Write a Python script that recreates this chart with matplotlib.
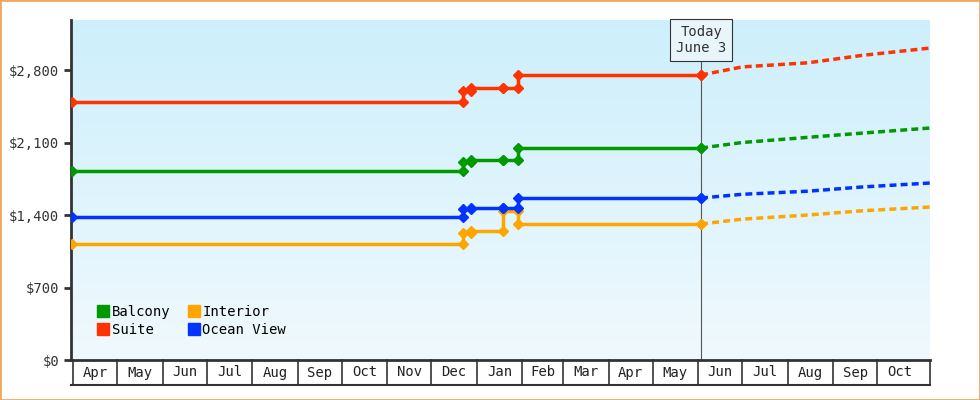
import matplotlib
matplotlib.use("Agg")
import matplotlib.pyplot as plt
import matplotlib.dates as mdates
import numpy as np
from datetime import date, timedelta
from matplotlib.patches import Rectangle

plt.rcParams['font.family'] = ['DejaVu Sans Mono']

# step-change dates (historical)
hist_dates = ["2024-03-31", "2024-12-23", "2024-12-28", "2025-01-19", "2025-01-29", "2025-06-03"]
suite    = [2490, 2597, 2626, 2626, 2752, 2752]
balcony  = [1825, 1912, 1931, 1931, 2047, 2047]
ocean    = [1381, 1458, 1467, 1467, 1564, 1564]
interior = [1120, 1226, 1245, 1439, 1313, 1313]

fc_dates = ["2025-06-03", "2025-07-01", "2025-08-15", "2025-09-20", "2025-11-06"]
suite_fc    = [2752, 2830, 2870, 2940, 3012]
balcony_fc  = [2047, 2100, 2150, 2190, 2240]
ocean_fc    = [1564, 1600, 1630, 1670, 1709]
interior_fc = [1313, 1360, 1400, 1440, 1477]

series = [("Balcony", "#009900", balcony, balcony_fc),
          ("Suite", "#ff3300", suite, suite_fc),
          ("Interior", "#ffa500", interior, interior_fc),
          ("Ocean View", "#0033ff", ocean, ocean_fc)]

months = ["Apr","May","Jun","Jul","Aug","Sep","Oct","Nov","Dec","Jan","Feb","Mar","Apr","May","Jun","Jul","Aug","Sep","Oct"]
month_starts = [date(2024,4,1)]
for i in range(1, len(months)+1):
    d = month_starts[-1]
    month_starts.append(date(d.year + (d.month==12), d.month % 12 + 1, 1))

fig = plt.figure(figsize=(9.8, 4.0), dpi=100)
fig.patches.append(Rectangle((0,0),1,1,transform=fig.transFigure,fill=False,edgecolor="#f0a860",lw=2))
ax = fig.add_axes([71/980, 40/400, 859/980, 340/400])

xmin = mdates.date2num(date(2024,3,30)) + 0.6
xmax = mdates.date2num(date(2025,11,6))
ax.set_xlim(xmin, xmax)
ax.set_ylim(0, 3283)

grad = np.linspace(0, 1, 256).reshape(-1, 1)
from matplotlib.colors import LinearSegmentedColormap
cm = LinearSegmentedColormap.from_list("g", ["#f0f9fe", "#cdeffb"])
ax.imshow(grad, aspect="auto", cmap=cm, origin="lower", extent=[xmin, xmax, 0, 3283], zorder=0)

def steps(ds, vs):
    xs, ys = [], []
    for i, (d, v) in enumerate(zip(ds, vs)):
        x = mdates.datestr2num(d)
        if i > 0:
            xs.append(x); ys.append(vs[i-1])
        xs.append(x); ys.append(v)
    return xs, ys

for name, c, h, f in series:
    xs, ys = steps(hist_dates, h)
    ax.plot(xs, ys, color=c, lw=2.5, zorder=3)
    ax.plot(xs[:-1], ys[:-1], 'D', color=c, ms=5, zorder=4)
    ax.plot([mdates.datestr2num(d) for d in fc_dates], f, color=c, lw=2.5, ls=(0, (2, 1.2)), zorder=3)
    ax.plot(mdates.datestr2num(fc_dates[0]), f[0], 'D', color=c, ms=5, zorder=4)

today = mdates.datestr2num("2025-06-03")
ax.axvline(today, color="#555555", lw=0.8, zorder=2, ymax=(360-62)/340)
ax.text(today, 3283*(340-20)/340, "Today\nJune 3", ha="center", va="center", fontsize=10, color="#333333",
        linespacing=1.2, bbox=dict(boxstyle="square,pad=0.4", fc="#e8f6fc", ec="#333333", lw=0.8), zorder=6)

for s in ["top", "right", "bottom"]:
    ax.spines[s].set_visible(False)
ax.spines["left"].set_color("#333333"); ax.spines["left"].set_linewidth(2)
ax.set_yticks([0, 700, 1400, 2100, 2800])
ax.set_yticklabels(["$0", "$700", "$1,400", "$2,100", "$2,800"])
ax.tick_params(axis="y", labelsize=10, colors="#333333", length=5, width=2)
ax.set_xticks([])

# month boxes
tr = ax.get_xaxis_transform()
bot = -25/340
ax.plot([xmin, xmax], [0, 0], transform=tr, color="#333333", lw=2, clip_on=False)
ax.plot([xmin, xmax], [bot, bot], transform=tr, color="#333333", lw=1.5, clip_on=False)
for i, m in enumerate(months):
    x0 = mdates.date2num(month_starts[i]); x1 = mdates.date2num(month_starts[i+1])
    ax.plot([x0, x0], [0, bot], transform=tr, color="#333333", lw=1.2, clip_on=False)
    if x1 <= xmax:
        ax.text((x0+x1)/2, bot/2, m, transform=tr, ha="center", va="center", fontsize=10, color="#222222")
ax.plot([xmax, xmax], [0, bot], transform=tr, color="#333333", lw=1.2, clip_on=False)

# legend
from matplotlib.lines import Line2D
handles = [Line2D([], [], marker='s', ls='', color=c, ms=9) for _, c, _, _ in series]
ax.legend(handles, [s[0] for s in series], ncol=2, loc="lower left", bbox_to_anchor=(0.015, 0.03),
          frameon=False, fontsize=10, handletextpad=0.1, columnspacing=1.2, labelspacing=0.3,
          handlelength=1.0)

fig.savefig("out.png", dpi=100)
